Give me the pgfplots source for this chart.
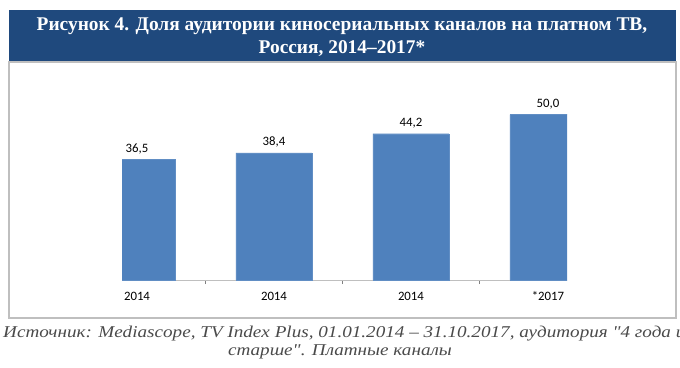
\documentclass[border=0pt]{standalone}
\usepackage{fontspec}
\setmainfont{Liberation Serif}
\newfontfamily\calibri{Carlito}
\newfontfamily\captfont[FakeStretch=1.16]{Liberation Serif}
\usepackage{pgfplots}
\pgfplotsset{compat=1.18}
\definecolor{banner}{HTML}{1F497D}
\definecolor{barblue}{HTML}{4F81BD}
\definecolor{framegray}{HTML}{BFBFBF}
\definecolor{captgray}{HTML}{4A4A4A}
\begin{document}
\begin{tikzpicture}
\useasboundingbox (0pt,0pt) rectangle (680pt,-367pt);
\clip (0pt,0pt) rectangle (680pt,-367pt);
\fill[banner] (9pt,-10pt) rectangle (676pt,-62pt);
\draw[framegray, line width=1.2pt] (9pt,-62pt) rectangle (676pt,-318pt);
\node[text=white, font=\bfseries\fontsize{19.4}{23}\selectfont, anchor=base, inner sep=0pt] at (342pt,-30.5pt) {Рисунок 4. Доля аудитории киносериальных каналов на платном ТВ,};
\node[text=white, font=\bfseries\fontsize{19.4}{23}\selectfont, anchor=base, inner sep=0pt] at (342pt,-53pt) {Россия, 2014–2017*};
\begin{axis}[
  at={(122pt,-280pt)}, anchor=south west,
  scale only axis, width=445pt, height=198.6pt,
  xmin=-0.1095, xmax=3.139, ymin=0, ymax=60,
  axis x line*=bottom,
  x axis line style={draw=framegray, line width=1pt},
  y axis line style={draw=none},
  ytick=\empty,
  xtick={0,1,2,3}, xticklabels={2014,2014,2014,*2017},
  major x tick style={draw=none},
  minor xtick={0.5,1.5,2.5},
  minor x tick style={draw=gray, line width=0.6pt},
  tick align=outside, minor tick length=4pt,
  xticklabel style={font=\calibri\fontsize{12.8}{14}\selectfont, text=black, yshift=-4pt},
  ybar, bar width=76pt,
  nodes near coords, point meta=explicit symbolic,
  nodes near coords style={font=\calibri\fontsize{12.8}{14}\selectfont, text=black, yshift=2pt},
]
\addplot[fill=barblue, draw=barblue!90!white] coordinates {(0,36.5) [36,5] (1,38.4) [38,4] (2,44.2) [44,2] (3,50.0) [50,0]};
\end{axis}
\node[text=captgray, font=\captfont\itshape\fontsize{16.5}{19}\selectfont, anchor=base west, inner sep=0pt] at (3pt,-337pt) {Источник: Mediascope, TV Index Plus, 01.01.2014 – 31.10.2017, аудитория "4 года и};
\node[text=captgray, font=\captfont\itshape\fontsize{16.5}{19}\selectfont, anchor=base, inner sep=0pt] at (340pt,-355pt) {старше". Платные каналы};
\end{tikzpicture}
\end{document}
